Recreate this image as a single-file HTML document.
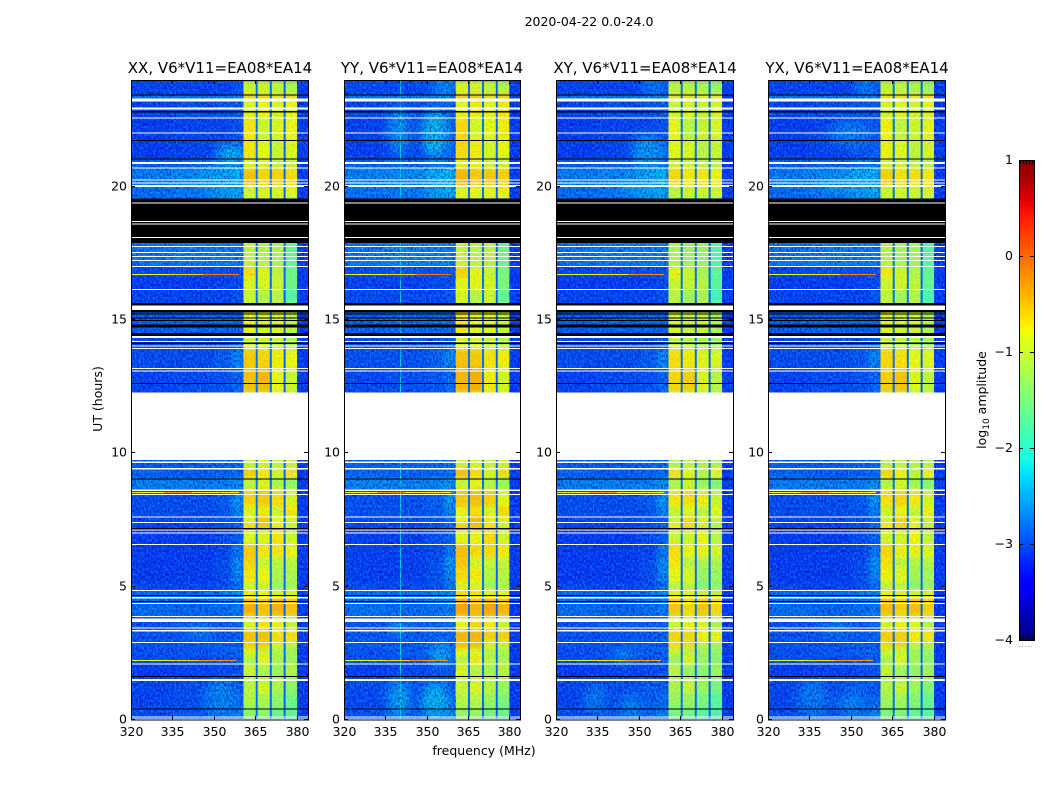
<!DOCTYPE html>
<html lang="en">
<head>
<meta charset="utf-8">
<title>2020-04-22 0.0-24.0</title>
<style>
html,body{margin:0;padding:0;background:#fff;}
body{width:1050px;height:800px;overflow:hidden;}
svg{display:block;}
text{font-family:"DejaVu Sans","Liberation Sans",sans-serif;fill:#000;}
.tick{font-size:12.5px;}
.title{font-size:15px;text-anchor:middle;}
.axis{font-size:12.5px;text-anchor:middle;}
</style>
</head>
<body>
<svg id="figure" xmlns="http://www.w3.org/2000/svg" width="1050" height="800" viewBox="0 0 1050 800">
  <defs>
    <filter id="grain-dark" x="0" y="0" width="100%" height="100%" color-interpolation-filters="sRGB">
      <feTurbulence type="fractalNoise" baseFrequency="0.6 0.38" numOctaves="2" seed="7"/>
      <feColorMatrix type="matrix" values="0 0 0 0 0  0 0 0 0 0  0 0 0 0 0.6  3.2 0 0 0 -1.3"/>
    </filter>
    <filter id="grain-light" x="0" y="0" width="100%" height="100%" color-interpolation-filters="sRGB">
      <feTurbulence type="fractalNoise" baseFrequency="0.6 0.38" numOctaves="2" seed="23"/>
      <feColorMatrix type="matrix" values="0 0 0 0 0.1  0 0 0 0 0.75  0 0 0 0 1  3.2 0 0 0 -1.4"/>
    </filter>
    <filter id="grain-warm" x="0" y="0" width="100%" height="100%" color-interpolation-filters="sRGB">
      <feTurbulence type="fractalNoise" baseFrequency="0.6 0.38" numOctaves="2" seed="41"/>
      <feColorMatrix type="matrix" values="0 0 0 0 1  0 0 0 0 0.6  0 0 0 0 0  3.2 0 0 0 -1.4"/>
    </filter>
    <filter id="soften-freq" x="-5%" y="0" width="110%" height="100%"><feGaussianBlur stdDeviation="3.5 0"/></filter>
    <filter id="soften-time" x="0" y="-2%" width="100%" height="104%"><feGaussianBlur stdDeviation="0 2.5"/></filter>
    <filter id="soften-blob" x="-60%" y="-60%" width="220%" height="220%"><feGaussianBlur stdDeviation="5"/></filter>
    <linearGradient id="jet-gradient" x1="0" y1="1" x2="0" y2="0"></linearGradient>
  </defs>
  <rect x="0" y="0" width="1050" height="800" fill="#fff"/>
  <text class="axis" x="589" y="26">2020-04-22 0.0-24.0</text>
  <text class="title" x="220" y="73">XX, V6*V11=EA08*EA14</text>
  <text class="title" x="432" y="73">YY, V6*V11=EA08*EA14</text>
  <text class="title" x="645" y="73">XY, V6*V11=EA08*EA14</text>
  <text class="title" x="857" y="73">YX, V6*V11=EA08*EA14</text>
  <text class="axis" transform="translate(102,399) rotate(-90)">UT (hours)</text>
  <text class="axis" x="484" y="755">frequency (MHz)</text>
  <text class="axis" transform="translate(986,400) rotate(-90)">log<tspan font-size="9" dy="3">10</tspan><tspan dy="-3"> amplitude</tspan></text>
  <g id="panels"></g>
  <g id="colorbar"></g>
</svg>
<script>
// ---------- chart data (hours, MHz, log10 amplitude) ----------
const panelNames = ['xx', 'yy', 'xy', 'yx'];
const xTickValues = [320, 335, 350, 365, 380];
const yTickValues = [0, 5, 10, 15, 20];
const colorbarTicks = [1, 0, -1, -2, -3, -4];
const lowFreqEdges = [320, 335, 350, 357, 360.6];
const highFreqEdges = [360.6, 365.1, 370.2, 375.2, 380.1, 384];
const notchStarts = [365.1, 370.2, 375.2];
const notchEnds = [365.8, 370.9, 375.9];

// start hour of each time band; last entry closes the final band
const bandStarts = [0, 0.5, 1.0, 1.55, 2.1, 2.4, 2.7, 2.95, 3.4, 3.9, 4.6, 4.9, 5.2, 5.7, 6.1, 6.6, 7.1, 7.4, 7.65, 8.0, 8.65, 9.1, 9.45, 12.28, 13.2, 13.9, 14.4, 15.6, 16.15, 16.6, 17.0, 19.55, 20.05, 20.7, 21.05, 21.75, 22.6, 23.3, 23.45, 24];
// low-band levels per time band: 320-335, 335-350, 350-357, 357-360.6 MHz
const lowBandLevels = [
  [-3.0,-2.95,-2.85,-2.65],[-3.05,-3.0,-2.9,-2.8],[-3.05,-3.0,-2.9,-2.9],[-3.1,-3.05,-3.0,-2.95],
  [-3.0,-3.0,-2.95,-2.9],[-3.0,-2.95,-2.9,-2.85],[-2.95,-2.95,-2.9,-2.9],[-2.95,-2.95,-2.9,-2.85],
  [-2.95,-2.9,-2.9,-2.8],[-2.8,-2.85,-2.8,-2.7],[-2.8,-2.8,-2.7,-2.6],[-3.05,-3.05,-3.0,-2.75],
  [-3.1,-3.1,-3.0,-2.6],[-3.1,-3.1,-3.0,-2.55],[-3.1,-3.1,-3.05,-2.7],[-3.1,-3.1,-3.0,-2.85],
  [-3.05,-3.05,-2.95,-2.8],[-3.05,-3.0,-2.95,-2.8],[-3.0,-3.0,-2.95,-2.6],[-3.0,-3.0,-2.9,-2.5],
  [-2.7,-2.7,-2.7,-2.55],[-2.85,-2.9,-2.85,-2.8],[-2.9,-2.9,-2.85,-2.8],[-3.05,-3.0,-2.95,-2.8],
  [-3.0,-3.0,-2.9,-2.6],[-3.05,-3.0,-3.0,-2.85],[-2.9,-2.85,-2.85,-2.85],[-3.05,-3.05,-3.05,-2.95],
  [-3.1,-3.1,-3.05,-3.0],[-3.05,-3.0,-3.0,-2.95],[-2.75,-2.7,-2.7,-2.7],[-2.8,-2.75,-2.55,-2.4],
  [-2.7,-2.65,-2.45,-2.35],[-2.9,-2.85,-2.75,-2.7],[-3.1,-3.05,-2.95,-2.85],[-3.1,-3.05,-3.05,-2.95],
  [-3.05,-3.0,-2.95,-2.9],[-2.75,-2.75,-2.7,-2.65],[-3.05,-3.05,-3.05,-2.95]
];
// four yellow sub-band levels per time band
const highBandLevels = [
  [-1.2,-1.2,-1.4,-1.5],[-1.0,-1.0,-1.2,-1.4],[-0.9,-0.75,-1.0,-1.2],[-0.8,-1.0,-1.1,-1.0],
  [-1.0,-0.6,-1.0,-1.1],[-0.7,-0.8,-1.0,-1.1],[-0.35,-0.35,-0.8,-0.9],[-0.3,-0.3,-0.45,-0.45],
  [-0.7,-0.5,-0.6,-0.9],[-0.2,-0.3,-0.2,-0.3],[-0.55,-0.6,-0.7,-0.7],[-0.8,-0.8,-1.2,-1.1],
  [-0.5,-0.6,-1.0,-1.0],[-0.4,-0.8,-0.9,-0.9],[-0.35,-0.5,-0.5,-0.6],[-0.7,-0.7,-0.5,-0.8],
  [-0.45,-0.35,-0.6,-0.8],[-0.75,-0.3,-0.6,-0.8],[-0.7,-0.55,-0.8,-0.5],[-0.4,-0.35,-0.45,-0.7],
  [-0.9,-0.7,-1.0,-1.2],[-0.35,-0.5,-0.8,-0.5],[-0.9,-0.8,-0.9,-0.9],[-0.3,-0.25,-0.6,-0.8],
  [-0.35,-0.4,-0.55,-0.6],[-0.8,-0.8,-0.9,-1.0],[-0.6,-0.7,-0.7,-0.9],[-0.8,-1.0,-0.9,-1.6],
  [-0.7,-0.7,-0.8,-1.4],[-0.45,-0.7,-0.9,-1.4],[-0.9,-1.0,-1.0,-1.5],[-0.75,-0.7,-0.7,-0.65],
  [-0.3,-0.4,-0.4,-0.45],[-0.75,-0.75,-0.9,-0.9],[-0.5,-0.6,-0.8,-0.7],[-0.5,-0.8,-0.7,-0.6],
  [-0.7,-0.6,-0.7,-0.6],[-0.3,-0.3,-0.4,-0.35],[-0.8,-0.8,-0.9,-1.0]
];
const notchLevels = [-2.85, -2.85, -2.9];
const edgeBandLevel = [-3.1];
const panelLowOffsets = [0, 0.03, 0, 0];
const panelHighOffsets = [-0.2, -0.13, -0.32, -0.27];
const panelSpurOffsets = [0, 0, -0.1, -0.05];

// diffuse patches: panel index, centre hour, centre MHz, half hours, half MHz, level
const patchPanels = [0,0,0,0,1,1,1,1,1,1,1,2,2,2,2,2,2,3,3,3,3,3,3];
const patchHours = [21.2,20.3,0.8,3.3,22.1,22.0,23.7,0.8,0.7,2.45,3.45,23.7,21.3,20.0,0.8,0.5,2.4,23.7,22.0,20.1,0.8,0.6,3.4];
const patchFreqs = [356,350,352,345,340,353,356,340,353,355,340,355,353,350,334,347,345,355,350,348,336,350,345];
const patchHourSpans = [0.4,0.5,0.7,0.3,0.9,0.9,0.3,0.7,0.7,0.4,0.2,0.3,0.7,0.3,0.6,0.5,0.3,0.3,0.5,0.3,0.7,0.5,0.2];
const patchFreqSpans = [5,8,6,5,4,5,4,4,5,4,4,4,6,8,4,4,4,4,8,9,6,5,5];
const patchLevels = [-2.25,-2.5,-2.6,-2.65,-2.5,-2.2,-2.45,-2.35,-2.25,-2.35,-2.45,-2.55,-2.45,-2.45,-2.65,-2.6,-2.55,-2.55,-2.6,-2.4,-2.65,-2.6,-2.5];

// narrow interference lines: hour, start MHz, end MHz, level
const spurHours = [16.7, 16.7, 16.7, 8.53, 8.53, 8.53, 2.2, 2.2, 2.2];
const spurStarts = [320, 334, 346, 320, 332, 342, 320, 334, 344];
const spurEnds = [334, 346, 359, 332, 342, 359, 334, 344, 358];
const spurLevels = [-0.8, -0.6, -0.1, -0.8, -0.2, -0.7, -0.85, -0.6, -0.25];
const verticalLineFreqs = [340.3];
const verticalLineLevels = [-2.25];

// flagged time ranges (hours)
const blackStarts = [0.39,1.61,4.43,4.65,7.14,9.02,12.6,14.1,14.4,14.71,14.96,15.07,15.22,15.28,15.54,17.88,21.02,21.72,22.78,23.42];
const blackEnds = [0.43,1.65,4.46,4.69,7.2,9.06,12.64,14.15,14.52,14.84,15.0,15.1,15.25,15.38,15.64,19.55,21.06,21.75,22.83,23.46];
const whiteStarts = [0.02,0.09,1.46,2.08,2.89,3.32,3.43,3.68,3.86,4.35,4.56,4.84,6.56,6.99,7.1,7.39,7.59,8.44,8.59,9.39,9.64,9.75,13.07,13.16,13.91,14.0,14.18,14.33,15.38,16.13,16.99,17.21,17.36,17.51,17.74,18.08,18.58,18.68,19.36,19.99,20.12,20.23,20.68,20.85,22.0,22.56,22.9,23.2];
const whiteEnds = [0.06,0.13,1.54,2.12,2.93,3.38,3.47,3.81,3.9,4.39,4.61,4.88,6.6,7.03,7.14,7.43,7.63,8.48,8.65,9.45,9.7,12.28,13.11,13.2,13.95,14.05,14.22,14.4,15.54,16.16,17.03,17.25,17.4,17.55,17.78,18.11,18.62,18.72,19.4,20.06,20.16,20.27,20.72,20.92,22.03,22.6,22.97,23.3];

// ---------- layout ----------
const NS = 'http://www.w3.org/2000/svg';
const panelLefts = [131, 344, 556, 768];
const panelWidths = [177, 176, 177, 177];
const plotTop = 80, plotBottom = 720;
const cbLeft = 1019, cbRight = 1034, cbTop = 160, cbBottom = 640;

function make(parent, tag, attrs) {
  const node = document.createElementNS(NS, tag);
  for (const key in attrs) node.setAttribute(key, attrs[key]);
  parent.appendChild(node);
  return node;
}
function yScale(hour) { return plotBottom - hour * (plotBottom - plotTop) / 24; }
function cbScale(v) { return cbBottom - (v + 4) * (cbBottom - cbTop) / 5; }
function interp(stops, t) {
  for (let i = 1; i < stops.length; i++) {
    if (t <= stops[i][0]) {
      const a = stops[i - 1], b = stops[i];
      return a[1] + (b[1] - a[1]) * (t - a[0]) / (b[0] - a[0]);
    }
  }
  return stops[stops.length - 1][1];
}
const jetR = [[0,0],[0.35,0],[0.66,1],[0.89,1],[1,0.5]];
const jetG = [[0,0],[0.125,0],[0.375,1],[0.64,1],[0.91,0],[1,0]];
const jetB = [[0,0.5],[0.11,1],[0.34,1],[0.65,0],[1,0]];
function jet(level) {
  const t = Math.max(0, Math.min(1, (level + 4) / 5));
  const c = s => Math.round(255 * interp(s, t));
  return 'rgb(' + c(jetR) + ',' + c(jetG) + ',' + c(jetB) + ')';
}

// ---------- panels ----------
const root = document.getElementById('panels');
const defs = document.querySelector('defs');
panelNames.forEach(function (name, p) {
  const left = panelLefts[p];
  const panelWidth = panelWidths[p];
  const xScale = function (mhz) { return left + (mhz - 320) * panelWidth / 64; };
  const plotHeight = plotBottom - plotTop;
  const clip = make(defs, 'clipPath', { id: 'clip-' + name });
  make(clip, 'rect', { x: left, y: plotTop, width: panelWidth, height: plotHeight });

  const group = make(root, 'g', { 'clip-path': 'url(#clip-' + name + ')' });
  
  

  const base = make(group, 'rect', { x: left, y: plotTop, width: panelWidth, height: plotHeight, fill: jet(lowBandLevels[0][0]) });
  
  

  // low-band cells, softened across frequency
  const lowCells = make(group, 'g', { filter: 'url(#soften-freq)' });
  
  
  lowBandLevels.forEach(function (low, b) {
    const y0 = yScale(bandStarts[b + 1]), y1 = yScale(bandStarts[b]);
    low.forEach(function (level, c) {
      const x0 = xScale(lowFreqEdges[c]), x1 = xScale(lowFreqEdges[c + 1]);
      const cell = make(lowCells, 'rect', { x: x0, y: y0, width: x1 - x0, height: y1 - y0, fill: jet(level + panelLowOffsets[p]), 'shape-rendering': 'crispEdges' });
      
      
    });
  });

  // diffuse blobs
  patchPanels.forEach(function (owner, i) {
    if (owner !== p) return;
    const blob = make(group, 'ellipse', {
      cx: xScale(patchFreqs[i]), cy: yScale(patchHours[i]),
      rx: patchFreqSpans[i] * panelWidth / 64, ry: patchHourSpans[i] * plotHeight / 24,
      fill: jet(patchLevels[i]), opacity: 0.75, filter: 'url(#soften-blob)'
    });
    
    
  });

  // vertical line (YY only)
  if (p === 1) {
    verticalLineFreqs.forEach(function (f, i) {
      const line = make(group, 'rect', { x: xScale(f), y: plotTop, width: 1, height: plotHeight, fill: jet(verticalLineLevels[i]), 'shape-rendering': 'crispEdges' });
      
      
    });
  }

  // high-band cells, softened across time
  const highCells = make(group, 'g', { filter: 'url(#soften-time)' });
  
  
  highBandLevels.forEach(function (high, b) {
    const levels = [
      high[0] + panelHighOffsets[p], high[1] + panelHighOffsets[p],
      high[2] + panelHighOffsets[p], high[3] + panelHighOffsets[p],
      edgeBandLevel[0]
    ];
    const y0 = yScale(bandStarts[b + 1]), y1 = yScale(bandStarts[b]);
    levels.forEach(function (level, c) {
      const x0 = xScale(highFreqEdges[c]), x1 = xScale(highFreqEdges[c + 1]);
      const cell = make(highCells, 'rect', { x: x0, y: y0, width: x1 - x0, height: y1 - y0, fill: jet(level), 'shape-rendering': 'crispEdges' });
      
      
    });
  });

  // decorative pixel texture
  const edgeX = xScale(360.6), endX = xScale(380.1);
  [[left, edgeX - left], [endX, left + panelWidth - endX]].forEach(function (span) {
    const dark = make(group, 'rect', { x: span[0], y: plotTop, width: span[1], height: plotHeight, filter: 'url(#grain-dark)', opacity: 0.62 });
    
    
    const light = make(group, 'rect', { x: span[0], y: plotTop, width: span[1], height: plotHeight, filter: 'url(#grain-light)', opacity: 0.42 });
    
    
  });
  const warm = make(group, 'rect', { x: edgeX, y: plotTop, width: endX - edgeX, height: plotHeight, filter: 'url(#grain-warm)', opacity: 0.28 });
  
  
  const cool = make(group, 'rect', { x: edgeX, y: plotTop, width: endX - edgeX, height: plotHeight, filter: 'url(#grain-light)', opacity: 0.18 });
  
  

  // blue notches between the bright sub-bands
  notchStarts.forEach(function (start, i) {
    const x0 = xScale(start), x1 = xScale(notchEnds[i]);
    const notch = make(group, 'rect', { x: x0, y: plotTop, width: x1 - x0, height: plotHeight, fill: jet(notchLevels[i]) });
    
    
  });

  // horizontal interference
  spurHours.forEach(function (h, i) {
    const x0 = xScale(spurStarts[i]), x1 = xScale(spurEnds[i]);
    const spur = make(group, 'rect', { x: x0, y: Math.round(yScale(h)) - 1, width: x1 - x0, height: 1, fill: jet(spurLevels[i] + panelSpurOffsets[p]), 'shape-rendering': 'crispEdges' });
    
    
  });

  // flagged data
  blackStarts.forEach(function (start, i) {
    const y0 = yScale(blackEnds[i]), y1 = yScale(start);
    const band = make(group, 'rect', { x: left, y: y0, width: panelWidth, height: Math.max(1, y1 - y0), fill: '#000', 'shape-rendering': 'crispEdges' });
    
    
  });
  whiteStarts.forEach(function (start, i) {
    const y0 = yScale(whiteEnds[i]), y1 = yScale(start);
    const band = make(group, 'rect', { x: left, y: y0, width: panelWidth, height: Math.max(1, y1 - y0), fill: '#fff', 'shape-rendering': 'crispEdges' });
    
    
  });

  // frame
  const frame = make(root, 'rect', { x: left + 0.5, y: plotTop + 0.5, width: panelWidth, height: plotHeight - 0.5, fill: 'none', stroke: '#000', 'stroke-width': 1 });
  
  

  // ticks
  xTickValues.forEach(function (v) {
    const x = Math.round(xScale(v)) + 0.5;
    const bottomTick = make(root, 'line', { x1: x, x2: x, y1: plotBottom, y2: plotBottom - 4, stroke: '#000' });
    
    
    const topTick = make(root, 'line', { x1: x, x2: x, y1: plotTop, y2: plotTop + 4, stroke: '#000' });
    
    
    const label = make(root, 'text', { x: x, y: 736, class: 'tick', 'text-anchor': 'middle' });
    label.textContent = String(v);
    
    
  });
  yTickValues.forEach(function (v) {
    const y = Math.round(yScale(v)) - 0.5;
    const leftTick = make(root, 'line', { x1: left, x2: left + 4, y1: y, y2: y, stroke: '#000' });
    
    
    const rightTick = make(root, 'line', { x1: left + panelWidth - 4, x2: left + panelWidth, y1: y, y2: y, stroke: '#000' });
    
    
    const label = make(root, 'text', { x: left - 4, y: y + 4, class: 'tick', 'text-anchor': 'end' });
    label.textContent = String(v);
    
    
  });
});

// ---------- colour bar ----------
const grad = document.getElementById('jet-gradient');
for (let v = -4; v <= 1.0001; v += 0.1) {
  make(grad, 'stop', { offset: (v + 4) / 5, 'stop-color': jet(v) });
}
const cb = document.getElementById('colorbar');
const cbFill = make(cb, 'rect', { x: cbLeft, y: cbTop, width: cbRight - cbLeft, height: cbBottom - cbTop, fill: 'url(#jet-gradient)' });


const cbFrame = make(cb, 'rect', { x: cbLeft + 0.5, y: cbTop + 0.5, width: cbRight - cbLeft, height: cbBottom - cbTop, fill: 'none', stroke: '#000' });


colorbarTicks.forEach(function (v) {
  const y = Math.round(cbScale(v));
  const left = make(cb, 'line', { x1: cbLeft, x2: cbLeft + 4, y1: y + 0.5, y2: y + 0.5, stroke: '#000' });
  
  
  const right = make(cb, 'line', { x1: cbRight - 4, x2: cbRight, y1: y + 0.5, y2: y + 0.5, stroke: '#000' });
  
  
  const label = make(cb, 'text', { x: cbLeft - 6, y: y + 4, class: 'tick', 'text-anchor': 'end', 'font-size': 11.5 });
  label.textContent = v < 0 ? '\u2212' + Math.abs(v) : String(v);
  
  
});
[1, 4, 7, 10, 13].forEach(function (offset) {
  const topMark = make(cb, 'line', { x1: cbLeft + offset + 0.5, x2: cbLeft + offset + 0.5, y1: cbTop, y2: cbTop + 4, stroke: '#000' });
  
  
  const bottomMark = make(cb, 'line', { x1: cbLeft + offset + 0.5, x2: cbLeft + offset + 0.5, y1: cbBottom - 4, y2: cbBottom, stroke: '#000' });
  
  
  const dot = make(cb, 'rect', { x: cbLeft + offset - 1, y: 646, width: 1, height: 1, fill: '#aaa' });
  
  
});
</script>
</body>
</html>
